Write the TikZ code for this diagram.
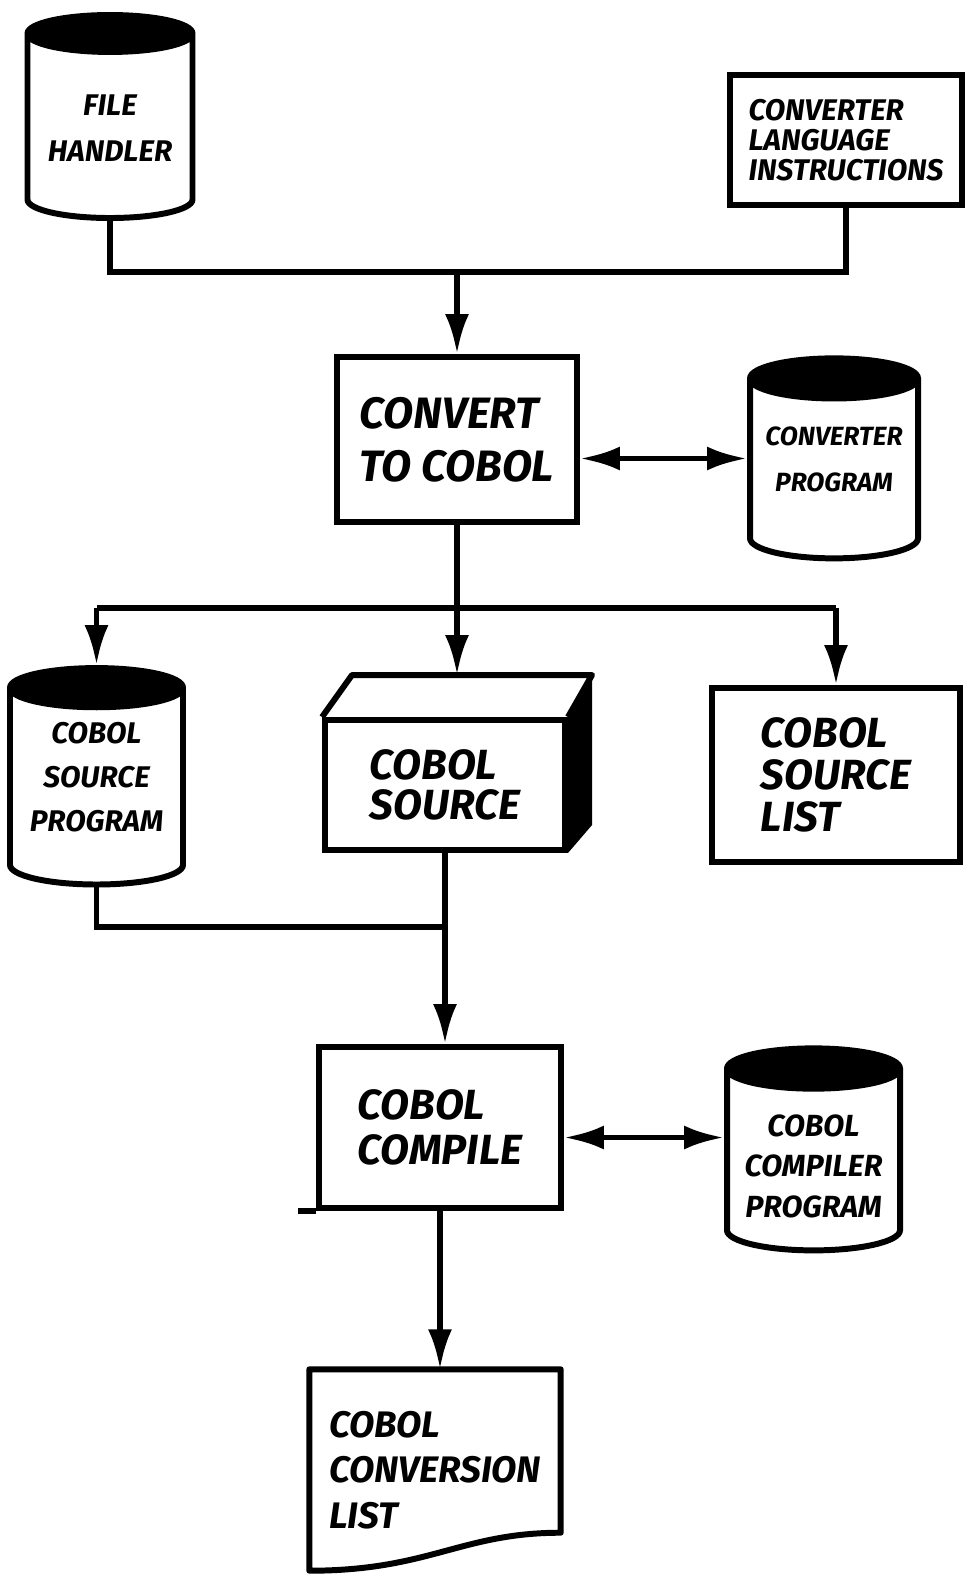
\documentclass[tikz,border=0pt]{standalone}
\usepackage{fontspec}
\setmainfont{Fira Sans}
\usetikzlibrary{shapes.geometric,arrows.meta}

\newcommand{\handfont}[2]{\fontsize{#1}{#2}\selectfont\bfseries\itshape}

\tikzset{
  flow/.style={line width=1.7pt},
  box/.style={draw,rectangle,line width=1.7pt,align=left},
  disk/.style={cylinder,shape border rotate=90,draw,line width=1.7pt,
    cylinder uses custom fill,cylinder end fill=black,cylinder body fill=white,
    aspect=0.25,align=center},
  tip/.style={-{Latex[length=4mm,width=2.4mm]}},
  both/.style={{Latex[length=4mm,width=2.4mm]}-{Latex[length=4mm,width=2.4mm]}},
}

\begin{document}
\begin{tikzpicture}
\useasboundingbox (0,0) rectangle (9.68,-15.74);
\fill[white] (0,0) rectangle (9.68,-15.74);

% inputs
\node[disk,minimum width=1.65cm,minimum height=2.03cm,text depth=0.08cm,font=\handfont{8.5}{13}] (fh) at (1.10,-1.32) {FILE\\HANDLER};
\node[box,align=left,minimum width=2.32cm,minimum height=1.30cm,font=\handfont{8.5}{8.5}] (cli) at (8.46,-1.40) {CONVERTER\\LANGUAGE\\INSTRUCTIONS};
\coordinate (top) at (4.57,-2.72);
\draw[flow] (fh.south) |- (top) -| (cli.south);

% conversion
\node[box,minimum width=2.40cm,minimum height=1.65cm,font=\handfont{12.5}{15}] (ctc) at (4.57,-4.395) {CONVERT\\TO COBOL};
\node[disk,minimum width=1.68cm,minimum height=2.00cm,text depth=0.32cm,font=\handfont{7.5}{13}] (cp) at (8.34,-4.75) {CONVERTER\\PROGRAM};
\draw[flow,tip] (top) -- (ctc.north);
\coordinate (cpl) at ([yshift=-0.19cm]ctc.east);
\draw[flow,both] (cpl) -- (cpl -| cp.west);

% outputs of conversion
\node[disk,minimum width=1.73cm,minimum height=2.15cm,text depth=0.32cm,font=\handfont{8.5}{12.5}] (csp) at (0.965,-7.925) {COBOL\\SOURCE\\PROGRAM};
\node[box,minimum width=2.40cm,minimum height=1.30cm,font=\handfont{12}{11.5}] (cs) at (4.45,-7.85) {COBOL\\SOURCE};
\draw[flow,line join=round] (cs.north west) -- ++(0.30,0.42) coordinate (cstl) -- ++(2.40,0) coordinate (cstr) -- (cs.north east);
\fill (cs.north east) -- (cstr) -- ++(0,-1.50) -- (cs.south east) -- cycle;
\coordinate (cstop) at ([yshift=0.42cm]cs.north);
\node[box,minimum width=2.48cm,minimum height=1.74cm,font=\handfont{12}{12}] (csl) at (8.36,-7.75) {COBOL\\SOURCE\\LIST};
\coordinate (split) at (4.57,-6.08);
\draw[flow] (ctc.south) -- (split);
\draw[flow] (csp.north |- split) -- (csl.north |- split);
\draw[flow,tip] (csp.north |- split) -- (csp.north);
\draw[flow,tip] (split) -- (split |- cstop);
\draw[flow,tip] (csl.north |- split) -- (csl.north);

% compile
\node[box,minimum width=2.42cm,minimum height=1.61cm,font=\handfont{12}{13}] (cc) at (4.40,-11.275) {COBOL\\COMPILE};
\draw[flow] (cc.south west) -- ++(-0.18,0);
\node[disk,minimum width=1.73cm,minimum height=2.02cm,font=\handfont{8.7}{11.5}] (ccp) at (8.135,-11.66) {COBOL\\COMPILER\\PROGRAM};
\coordinate (join) at (4.45,-9.27);
\draw[flow] (csp.south) |- (join);
\draw[flow,tip] (cs.south) -- (cs.south |- cc.north);
\coordinate (ccl) at ([yshift=-0.10cm]cc.east);
\draw[flow,both] (ccl) -- (ccl -| ccp.west);

% listing
\node[align=left,minimum width=2.50cm,minimum height=2.00cm,font=\handfont{10.5}{13}] (cl) at (4.35,-14.70) {COBOL\\CONVERSION\\LIST};
\draw[flow,line join=round] (cl.north west) -- (cl.north east) -- ([yshift=0.38cm]cl.south east)
  .. controls ([xshift=-1.0cm,yshift=0.38cm]cl.south east) and ([xshift=1.2cm]cl.south west) .. (cl.south west) -- cycle;
\draw[flow,tip] (cc.south) -- (cc.south |- cl.north);
\end{tikzpicture}
\end{document}
